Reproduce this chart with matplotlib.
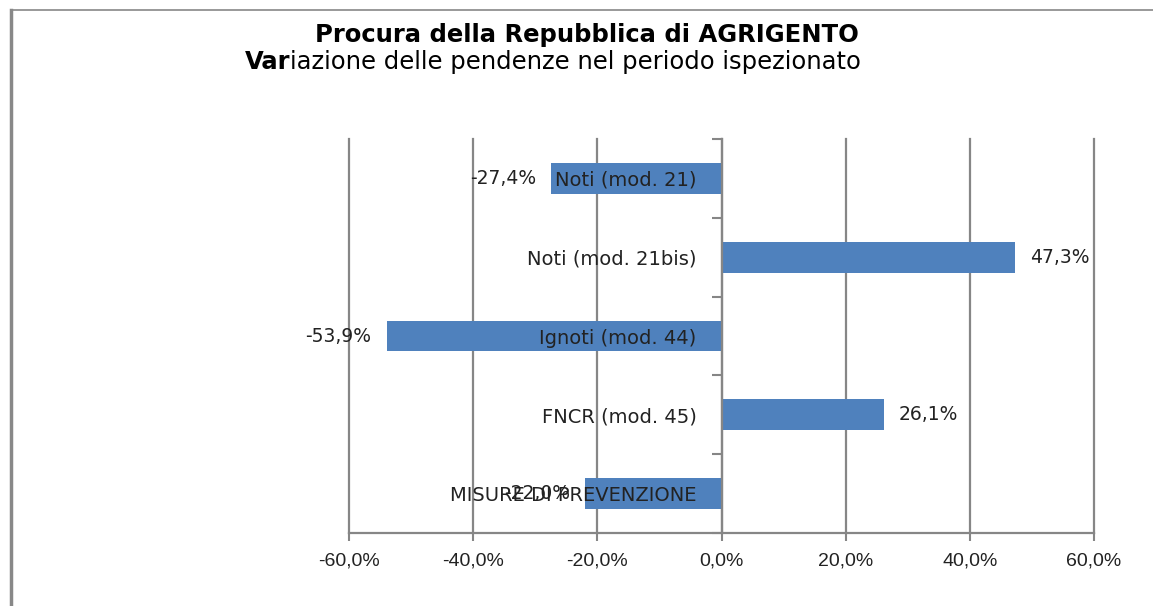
import numpy as np
import matplotlib.pyplot as plt
from matplotlib.lines import Line2D

categories = ['Noti (mod. 21)', 'Noti (mod. 21bis)', 'Ignoti (mod. 44)',
              'FNCR (mod. 45)', 'MISURE DI PREVENZIONE']
values = [-27.4, 47.3, -53.9, 26.1, -22.0]
xticks = [-60, -40, -20, 0, 20, 40, 60]

fig = plt.figure(figsize=(11.53, 6.06), dpi=100)
ax = fig.add_axes([349 / 1153, 73 / 606, 745 / 1153, 394 / 606])

# y axis sits at 0 (set first, it resets the ticks)
ax.spines['left'].set_position(('data', 0))
ax.spines['left'].set_color('#868686')
ax.spines['left'].set_linewidth(1.6)
ax.spines['bottom'].set_color('#868686')
ax.spines['bottom'].set_linewidth(1.6)
ax.spines['top'].set_visible(False)
ax.spines['right'].set_visible(False)

y = np.arange(len(categories))
bars = ax.barh(y, values, height=0.39, color='#4F81BD', zorder=1)

# gridlines behind bars
for t in xticks:
    ax.axvline(t, color='#868686', lw=1.6, zorder=0.5, clip_on=False)

ax.set_xlim(-60, 60)
ax.set_ylim(len(categories) - 0.5, -0.5)
ax.set_xticks(xticks)
ax.set_xticklabels([f"{t:.1f}%".replace('.', ',') for t in xticks],
                   fontsize=14, family='Liberation Sans', color='#222222')
ax.tick_params(axis='x', length=6, width=1.5, color='#868686', pad=8)

ax.set_yticks(y)
ax.set_yticklabels(categories, fontsize=14, family='DejaVu Sans', color='#222222')
ax.set_yticks(np.arange(len(categories) + 1) - 0.5, minor=True)
ax.tick_params(axis='y', which='major', length=0, pad=18)
ax.tick_params(axis='y', which='minor', length=7, width=1.5, color='#868686', direction='out')

ax.bar_label(bars, labels=[f"{v:.1f}%".replace('.', ',') for v in values],
             padding=11, fontsize=13.5, color='#222222', family='DejaVu Sans')

fig.text(587 / 1153, 1 - 35 / 606, 'Procura della Repubblica di AGRIGENTO',
         ha='center', va='center', fontsize=17.5, fontweight='bold', family='DejaVu Sans')
t1 = fig.text(245 / 1153, 1 - 74 / 606, 'Var', ha='left', va='bottom',
              fontsize=17.5, fontweight='bold', family='DejaVu Sans')
ax.annotate('iazione delle pendenze nel periodo ispezionato', xy=(1, 0), xycoords=t1,
            ha='left', va='bottom', fontsize=17.5, family='DejaVu Sans')

# outer frame
fig.add_artist(Line2D([11 / 1153, 11 / 1153], [0, 1 - 10 / 606], transform=fig.transFigure,
                      color='#888888', lw=2.5))
fig.add_artist(Line2D([11 / 1153, 1], [1 - 10 / 606, 1 - 10 / 606], transform=fig.transFigure,
                      color='#888888', lw=1.2))

fig.savefig('out.png', dpi=100)
